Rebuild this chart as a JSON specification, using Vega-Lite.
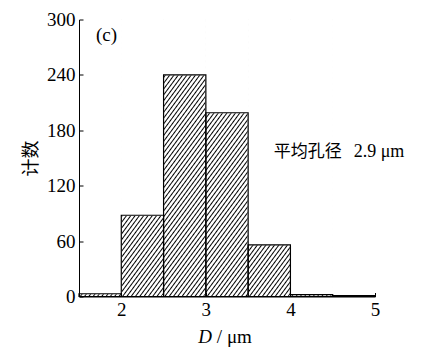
{
  "$schema": "https://vega.github.io/schema/vega-lite/v6.json",
  "width": 296,
  "height": 277,
  "autosize": {"type": "none"},
  "padding": {"left": 79, "top": 19.5, "right": 48, "bottom": 50.5},
  "background": "white",
  "config": {
    "view": {"stroke": null}
  },
  "data": {
    "values": [
      {"lo": 1.5, "hi": 2, "count": 3},
      {"lo": 2, "hi": 2.5, "count": 88},
      {"lo": 2.5, "hi": 3, "count": 240},
      {"lo": 3, "hi": 3.5, "count": 199},
      {"lo": 3.5, "hi": 4, "count": 56},
      {"lo": 4, "hi": 4.5, "count": 2},
      {"lo": 4.5, "hi": 5, "count": 1}
    ]
  },
  "layer": [
    {
      "mark": {
        "type": "rect",
        "strokeWidth": 0,
        "fill": {
          "gradient": "linear",
          "x1": 0, "y1": 0, "x2": 0.2368, "y2": 1.1487,
          "stops": [
            {"offset": 0, "color": "#000"}, {"offset": 0.005, "color": "#fff"}, {"offset": 0.0125, "color": "#fff"},
            {"offset": 0.0175, "color": "#000"}, {"offset": 0.0225, "color": "#fff"}, {"offset": 0.03, "color": "#fff"},
            {"offset": 0.035, "color": "#000"}, {"offset": 0.04, "color": "#fff"}, {"offset": 0.0475, "color": "#fff"},
            {"offset": 0.0525, "color": "#000"}, {"offset": 0.0575, "color": "#fff"}, {"offset": 0.065, "color": "#fff"},
            {"offset": 0.07, "color": "#000"}, {"offset": 0.075, "color": "#fff"}, {"offset": 0.0825, "color": "#fff"},
            {"offset": 0.0875, "color": "#000"}, {"offset": 0.0925, "color": "#fff"}, {"offset": 0.1, "color": "#fff"},
            {"offset": 0.105, "color": "#000"}, {"offset": 0.11, "color": "#fff"}, {"offset": 0.1175, "color": "#fff"},
            {"offset": 0.1225, "color": "#000"}, {"offset": 0.1275, "color": "#fff"}, {"offset": 0.135, "color": "#fff"},
            {"offset": 0.14, "color": "#000"}, {"offset": 0.145, "color": "#fff"}, {"offset": 0.1525, "color": "#fff"},
            {"offset": 0.1575, "color": "#000"}, {"offset": 0.1625, "color": "#fff"}, {"offset": 0.17, "color": "#fff"},
            {"offset": 0.175, "color": "#000"}, {"offset": 0.18, "color": "#fff"}, {"offset": 0.1875, "color": "#fff"},
            {"offset": 0.1925, "color": "#000"}, {"offset": 0.1975, "color": "#fff"}, {"offset": 0.205, "color": "#fff"},
            {"offset": 0.21, "color": "#000"}, {"offset": 0.215, "color": "#fff"}, {"offset": 0.2225, "color": "#fff"},
            {"offset": 0.2275, "color": "#000"}, {"offset": 0.2325, "color": "#fff"}, {"offset": 0.24, "color": "#fff"},
            {"offset": 0.245, "color": "#000"}, {"offset": 0.25, "color": "#fff"}, {"offset": 0.2575, "color": "#fff"},
            {"offset": 0.2625, "color": "#000"}, {"offset": 0.2675, "color": "#fff"}, {"offset": 0.275, "color": "#fff"},
            {"offset": 0.28, "color": "#000"}, {"offset": 0.285, "color": "#fff"}, {"offset": 0.2925, "color": "#fff"},
            {"offset": 0.2975, "color": "#000"}, {"offset": 0.3025, "color": "#fff"}, {"offset": 0.31, "color": "#fff"},
            {"offset": 0.315, "color": "#000"}, {"offset": 0.32, "color": "#fff"}, {"offset": 0.3275, "color": "#fff"},
            {"offset": 0.3325, "color": "#000"}, {"offset": 0.3375, "color": "#fff"}, {"offset": 0.345, "color": "#fff"},
            {"offset": 0.35, "color": "#000"}, {"offset": 0.355, "color": "#fff"}, {"offset": 0.3625, "color": "#fff"},
            {"offset": 0.3675, "color": "#000"}, {"offset": 0.3725, "color": "#fff"}, {"offset": 0.38, "color": "#fff"},
            {"offset": 0.385, "color": "#000"}, {"offset": 0.39, "color": "#fff"}, {"offset": 0.3975, "color": "#fff"},
            {"offset": 0.4025, "color": "#000"}, {"offset": 0.4075, "color": "#fff"}, {"offset": 0.415, "color": "#fff"},
            {"offset": 0.42, "color": "#000"}, {"offset": 0.425, "color": "#fff"}, {"offset": 0.4325, "color": "#fff"},
            {"offset": 0.4375, "color": "#000"}, {"offset": 0.4425, "color": "#fff"}, {"offset": 0.45, "color": "#fff"},
            {"offset": 0.455, "color": "#000"}, {"offset": 0.46, "color": "#fff"}, {"offset": 0.4675, "color": "#fff"},
            {"offset": 0.4725, "color": "#000"}, {"offset": 0.4775, "color": "#fff"}, {"offset": 0.485, "color": "#fff"},
            {"offset": 0.49, "color": "#000"}, {"offset": 0.495, "color": "#fff"}, {"offset": 0.5025, "color": "#fff"},
            {"offset": 0.5075, "color": "#000"}, {"offset": 0.5125, "color": "#fff"}, {"offset": 0.52, "color": "#fff"},
            {"offset": 0.525, "color": "#000"}, {"offset": 0.53, "color": "#fff"}, {"offset": 0.5375, "color": "#fff"},
            {"offset": 0.5425, "color": "#000"}, {"offset": 0.5475, "color": "#fff"}, {"offset": 0.555, "color": "#fff"},
            {"offset": 0.56, "color": "#000"}, {"offset": 0.565, "color": "#fff"}, {"offset": 0.5725, "color": "#fff"},
            {"offset": 0.5775, "color": "#000"}, {"offset": 0.5825, "color": "#fff"}, {"offset": 0.59, "color": "#fff"},
            {"offset": 0.595, "color": "#000"}, {"offset": 0.6, "color": "#fff"}, {"offset": 0.6075, "color": "#fff"},
            {"offset": 0.6125, "color": "#000"}, {"offset": 0.6175, "color": "#fff"}, {"offset": 0.625, "color": "#fff"},
            {"offset": 0.63, "color": "#000"}, {"offset": 0.635, "color": "#fff"}, {"offset": 0.6425, "color": "#fff"},
            {"offset": 0.6475, "color": "#000"}, {"offset": 0.6525, "color": "#fff"}, {"offset": 0.66, "color": "#fff"},
            {"offset": 0.665, "color": "#000"}, {"offset": 0.67, "color": "#fff"}, {"offset": 0.6775, "color": "#fff"},
            {"offset": 0.6825, "color": "#000"}, {"offset": 0.6875, "color": "#fff"}, {"offset": 0.695, "color": "#fff"},
            {"offset": 0.7, "color": "#000"}, {"offset": 0.705, "color": "#fff"}, {"offset": 0.7125, "color": "#fff"},
            {"offset": 0.7175, "color": "#000"}, {"offset": 0.7225, "color": "#fff"}, {"offset": 0.73, "color": "#fff"},
            {"offset": 0.735, "color": "#000"}, {"offset": 0.74, "color": "#fff"}, {"offset": 0.7475, "color": "#fff"},
            {"offset": 0.7525, "color": "#000"}, {"offset": 0.7575, "color": "#fff"}, {"offset": 0.765, "color": "#fff"},
            {"offset": 0.77, "color": "#000"}, {"offset": 0.775, "color": "#fff"}, {"offset": 0.7825, "color": "#fff"},
            {"offset": 0.7875, "color": "#000"}, {"offset": 0.7925, "color": "#fff"}, {"offset": 0.8, "color": "#fff"},
            {"offset": 0.805, "color": "#000"}, {"offset": 0.81, "color": "#fff"}, {"offset": 0.8175, "color": "#fff"},
            {"offset": 0.8225, "color": "#000"}, {"offset": 0.8275, "color": "#fff"}, {"offset": 0.835, "color": "#fff"},
            {"offset": 0.84, "color": "#000"}, {"offset": 0.845, "color": "#fff"}, {"offset": 0.8525, "color": "#fff"},
            {"offset": 0.8575, "color": "#000"}, {"offset": 0.8625, "color": "#fff"}, {"offset": 0.87, "color": "#fff"},
            {"offset": 0.875, "color": "#000"}, {"offset": 0.88, "color": "#fff"}, {"offset": 0.8875, "color": "#fff"},
            {"offset": 0.8925, "color": "#000"}, {"offset": 0.8975, "color": "#fff"}, {"offset": 0.905, "color": "#fff"},
            {"offset": 0.91, "color": "#000"}, {"offset": 0.915, "color": "#fff"}, {"offset": 0.9225, "color": "#fff"},
            {"offset": 0.9275, "color": "#000"}, {"offset": 0.9325, "color": "#fff"}, {"offset": 0.94, "color": "#fff"},
            {"offset": 0.945, "color": "#000"}, {"offset": 0.95, "color": "#fff"}, {"offset": 0.9575, "color": "#fff"},
            {"offset": 0.9625, "color": "#000"}, {"offset": 0.9675, "color": "#fff"}, {"offset": 0.975, "color": "#fff"},
            {"offset": 0.98, "color": "#000"}, {"offset": 0.985, "color": "#fff"}, {"offset": 0.9925, "color": "#fff"},
            {"offset": 0.9975, "color": "#000"}, {"offset": 1, "color": "#fff"}
          ]
        }
      },
      "encoding": {
        "x": {
          "field": "lo", "type": "quantitative",
          "scale": {"domain": [1.5, 5], "nice": false, "zero": false},
          "axis": {
            "values": [2, 3, 4, 5], "title": null, "format": "d",
            "grid": false, "domain": true, "domainColor": "black", "domainWidth": 1,
            "ticks": true, "tickColor": "black", "tickWidth": 1, "tickSize": -4,
            "labelPadding": 8, "labelFont": "Liberation Serif", "labelFontSize": 19,
            "labelColor": "black", "labelFlush": false, "labelOverlap": false, "zindex": 2
          }
        },
        "x2": {"field": "hi"},
        "y": {
          "datum": 0, "type": "quantitative",
          "scale": {"domain": [0, 300], "nice": false, "zero": true},
          "axis": {
            "values": [0, 60, 120, 180, 240, 300], "format": "d",
            "grid": false, "domain": true, "domainColor": "black", "domainWidth": 1,
            "ticks": true, "tickColor": "black", "tickWidth": 1, "tickSize": -4,
            "labelPadding": 8, "labelFont": "Liberation Serif", "labelFontSize": 19,
            "labelColor": "black", "labelOverlap": false, "zindex": 2,
            "title": "计数",
            "titleFont": "Noto Sans CJK SC",
            "titleFontSize": 18,
            "titleFontWeight": "normal",
            "titleColor": "black",
            "titlePadding": 6
          }
        },
        "y2": {"datum": 300}
      }
    },
    {
      "mark": {"type": "rect", "fill": "white", "stroke": "white", "strokeWidth": 1},
      "encoding": {
        "x": {"field": "lo", "type": "quantitative"},
        "x2": {"field": "hi"},
        "y": {"field": "count", "type": "quantitative"},
        "y2": {"datum": 300}
      }
    },
    {
      "mark": {"type": "rect", "fill": "white", "fillOpacity": 0, "stroke": "black", "strokeWidth": 1.2},
      "encoding": {
        "x": {"field": "lo", "type": "quantitative"},
        "x2": {"field": "hi"},
        "y": {"field": "count", "type": "quantitative"},
        "y2": {"datum": 0}
      }
    },
    {
      "data": {"values": [{}]},
      "mark": {"type": "text", "text": "(c)", "font": "Liberation Serif", "fontSize": 19, "align": "left", "baseline": "middle", "color": "black"},
      "encoding": {
        "x": {"datum": 1.7, "type": "quantitative"},
        "y": {"datum": 283, "type": "quantitative"}
      }
    },
    {
      "data": {"values": [{}]},
      "mark": {"type": "text", "text": "平均孔径", "font": "Noto Sans CJK SC", "fontSize": 17, "align": "left", "baseline": "middle", "color": "black"},
      "encoding": {
        "x": {"datum": 3.803, "type": "quantitative"},
        "y": {"datum": 156.5, "type": "quantitative"}
      }
    },
    {
      "data": {"values": [{}]},
      "mark": {"type": "text", "text": "2.9 μm", "font": "Liberation Serif", "fontSize": 18, "align": "left", "baseline": "middle", "color": "black"},
      "encoding": {
        "x": {"datum": 4.748, "type": "quantitative"},
        "y": {"datum": 156.5, "type": "quantitative"}
      }
    },
    {
      "data": {"values": [{}]},
      "mark": {"type": "text", "text": "D", "font": "Liberation Serif", "fontStyle": "italic", "fontSize": 19, "align": "right", "baseline": "middle", "color": "black"},
      "encoding": {
        "x": {"datum": 3.071, "type": "quantitative"},
        "y": {"datum": -44, "type": "quantitative"}
      }
    },
    {
      "data": {"values": [{}]},
      "mark": {"type": "text", "text": "/ μm", "font": "Liberation Serif", "fontSize": 19, "align": "left", "baseline": "middle", "color": "black"},
      "encoding": {
        "x": {"datum": 3.13, "type": "quantitative"},
        "y": {"datum": -44, "type": "quantitative"}
      }
    }
  ]
}
